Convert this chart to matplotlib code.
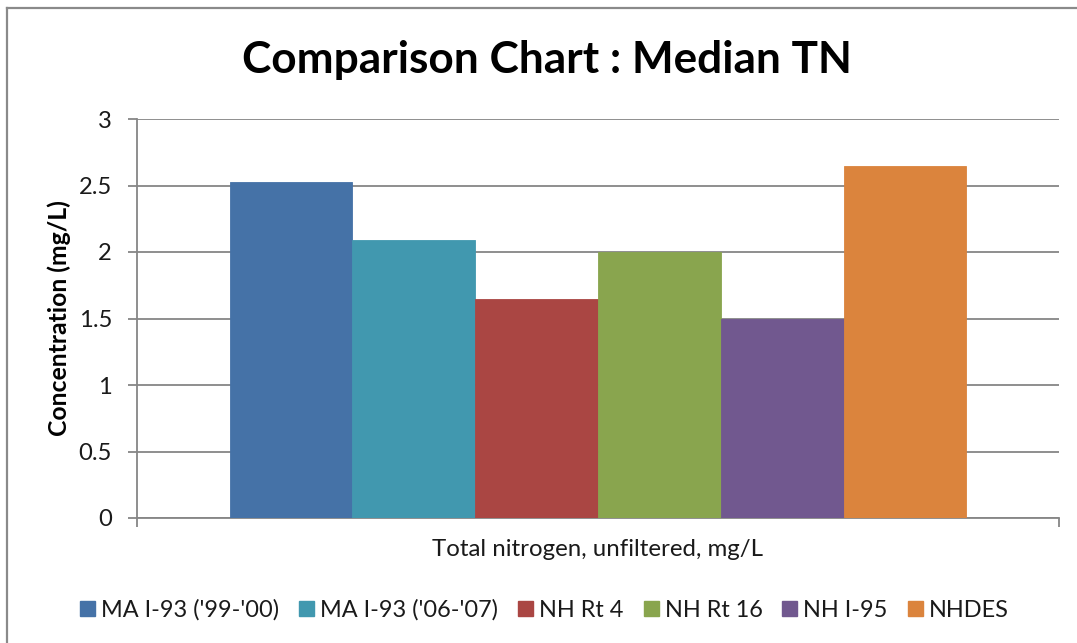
import matplotlib
matplotlib.use('Agg')
import matplotlib.pyplot as plt
from matplotlib.lines import Line2D
from matplotlib.patches import Patch

# ---- data ----
categories = ['Total nitrogen, unfiltered, mg/L']
series = ["MA I-93 ('99-'00)", "MA I-93 ('06-'07)", "NH Rt 4", "NH Rt 16", "NH I-95", "NHDES"]
values = [2.53, 2.09, 1.65, 2.00, 1.50, 2.65]
colors = ['#4572A7', '#4198AF', '#AA4643', '#89A54E', '#71588F', '#DB843D']
yticks = [0, 0.5, 1, 1.5, 2, 2.5, 3]
ytick_labels = ['0', '0.5', '1', '1.5', '2', '2.5', '3']
title = 'Comparison Chart : Median TN'
ylabel = 'Concentration (mg/L)'

FONT = 'Lato'
plt.rcParams['font.family'] = [FONT, 'DejaVu Sans']
W, H = 1077, 643
fig = plt.figure(figsize=(W / 100, H / 100), dpi=100)
renderer = fig.canvas.get_renderer()


def fit_size(s, target_px, weight='normal', base=20):
    t = fig.text(0, 0, s, fontsize=base, fontweight=weight)
    w = t.get_window_extent(renderer).width
    t.remove()
    return base * target_px / w


tick_fs = fit_size('2.5', 33)
xl_fs = fit_size(categories[0], 331)
leg_fs = fit_size(series[0], 178)
title_fs = fit_size(title, 610, 'bold')
yl_fs = fit_size(ylabel, 236, 'bold')

TXT = '#1a1a1a'
GRID = '#868686'

ax = fig.add_axes([137 / W, 1 - 518 / H, (1059 - 137) / W, (518 - 119) / H])
n = len(series)
group = 0.799
bw = group / n
for i, (s, v, c) in enumerate(zip(series, values, colors)):
    x = -group / 2 + bw * (i + 0.5)
    ax.bar(x, v, width=bw, color=c, label=s, edgecolor=c, linewidth=0.6, zorder=3)

ax.set_xlim(-0.5, 0.5)
ax.set_ylim(0, 3)
ax.set_yticks(yticks)
ax.set_yticklabels(ytick_labels)
ax.yaxis.grid(True, color=GRID, linewidth=1.3, zorder=0)
ax.set_axisbelow(True)
for sp in ['top', 'right']:
    ax.spines[sp].set_visible(False)
for sp in ['left', 'bottom']:
    ax.spines[sp].set_color(GRID)
    ax.spines[sp].set_linewidth(1.3)
ax.tick_params(axis='y', length=9 * 0.72, color=GRID, width=1.3, pad=11.5,
               labelsize=tick_fs, labelcolor=TXT)
ax.set_xticks([-0.5, 0.5])
ax.set_xticklabels(['', ''])
ax.tick_params(axis='x', which='major', length=9 * 0.72, color=GRID, width=1.3)
ax.set_xticks([0], minor=True)
ax.set_xticklabels(categories, minor=True)
ax.tick_params(axis='x', which='minor', length=0, pad=15, labelsize=xl_fs, labelcolor=TXT)

fig.text(59 / W, 1 - 318 / H, ylabel, rotation=90, ha='center', va='center',
         fontsize=yl_fs, fontweight='bold', color='black')
fig.text(547 / W, 1 - 60 / H, title, ha='center', va='center',
         fontsize=title_fs, fontweight='bold', color='black')

em = leg_fs * 100 / 72
handles = [Patch(facecolor=c, edgecolor=c, label=s) for s, c in zip(series, colors)]
fig.legend(handles=handles, loc='center', bbox_to_anchor=(544.5 / W, 1 - 610 / H),
           ncol=n, frameon=False, fontsize=leg_fs, handlelength=15 / em,
           handleheight=15 / em, handletextpad=6 / em, columnspacing=20 / em,
           labelcolor=TXT, borderaxespad=0, borderpad=0)

# chart border (top and left visible)
fig.add_artist(Line2D([7 / W, 1], [1 - 8 / H, 1 - 8 / H], transform=fig.transFigure,
                      color='#8a8a8a', lw=1.6))
fig.add_artist(Line2D([7 / W, 7 / W], [1 - 8 / H, 0], transform=fig.transFigure,
                      color='#8a8a8a', lw=1.6))

fig.savefig('out.png', dpi=100)
